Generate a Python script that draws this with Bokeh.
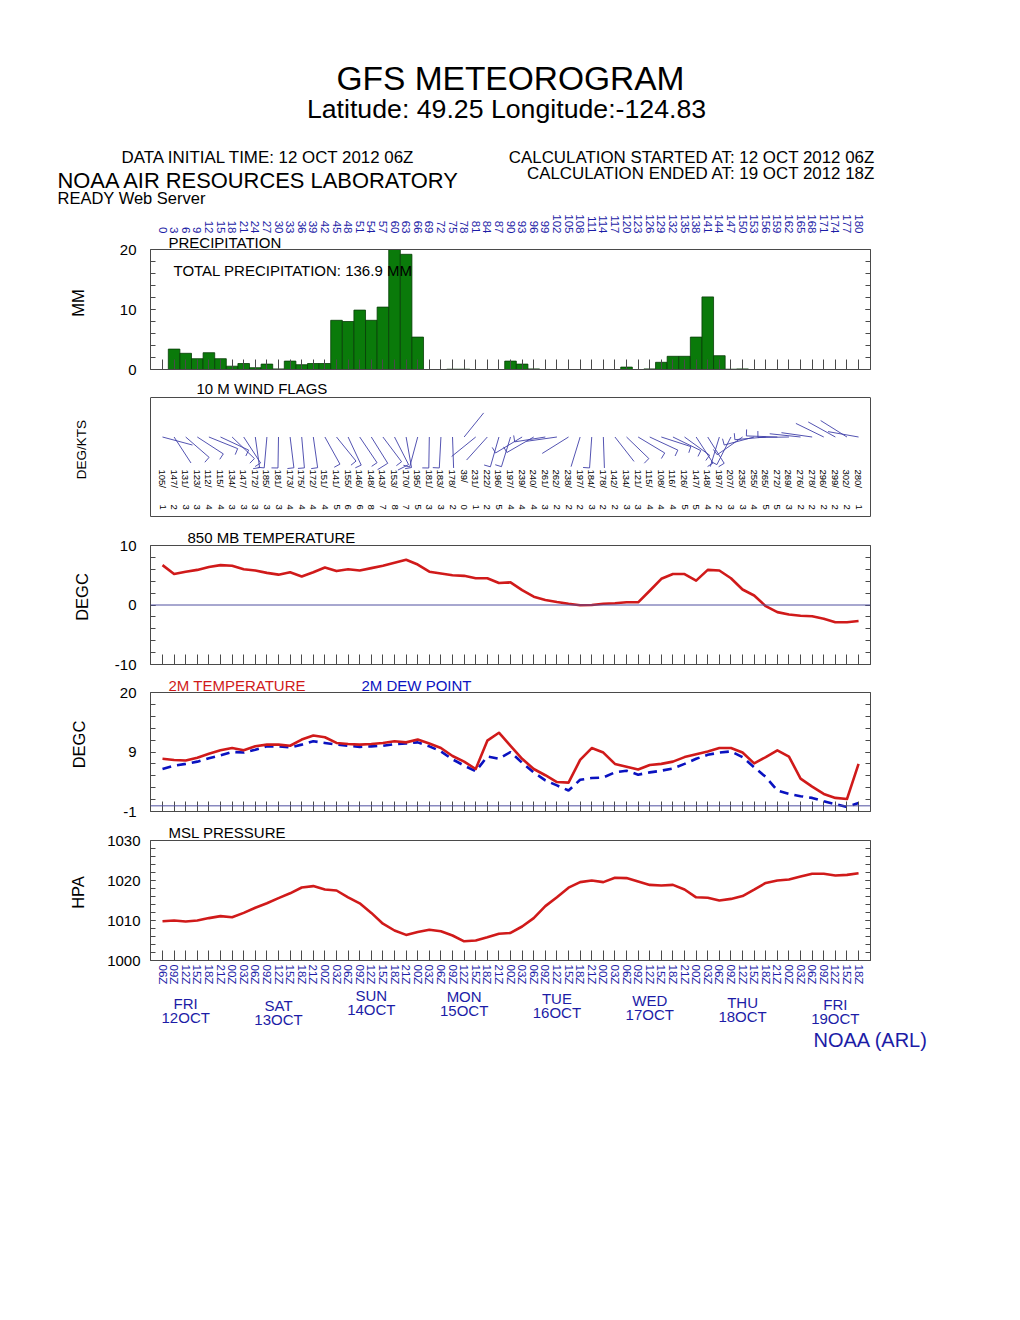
import math
from bokeh.plotting import figure
from bokeh.models import Range1d, LinearAxis, FixedTicker, Label, Span, ColumnDataSource
from bokeh.layouts import column
from bokeh.embed import file_html
from bokeh.resources import INLINE
from bokeh.core.properties import value

# ---------------- data ----------------
hours = list(range(0, 181, 3))
precip_hours = list(range(3, 181, 3))
precip_mm = [3.4, 2.7, 1.8, 2.8, 1.8, 0.55, 1.0, 0.3, 0.9, 0.1,
             1.4, 0.8, 1.0, 1.0, 8.2, 8.0, 9.9, 8.2, 10.4, 20.0,
             19.2, 5.4, 0.0, 0.0, 0.05, 0.05, 0.0, 0.0, 0.0, 1.4,
             0.9, 0.1, 0.0, 0.0, 0.0, 0.0, 0.0, 0.0, 0.0, 0.4,
             0.0, 0.1, 1.2, 2.2, 2.2, 5.4, 12.1, 2.3, 0.05, 0.1,
             0.0, 0.0, 0.0, 0.0, 0.0, 0.0, 0.0, 0.0, 0.0, 0.0]
total_precip = "136.9"

wind_dir = [105, 147, 131, 123, 112, 115, 134, 147, 172, 185, 181, 173, 175, 172, 151,
            141, 155, 146, 148, 143, 153, 170, 195, 181, 183, 178, 39, 231, 222, 196,
            197, 239, 240, 261, 262, 238, 197, 184, 178, 142, 134, 121, 115, 108, 116,
            126, 147, 148, 197, 207, 235, 255, 265, 272, 269, 276, 278, 296, 299, 302, 280]
wind_kts = [1, 2, 3, 3, 4, 4, 3, 3, 3, 3, 3, 4, 4, 4, 4,
            5, 6, 6, 8, 7, 8, 7, 5, 3, 3, 2, 0, 1, 2, 5,
            4, 4, 4, 3, 2, 2, 2, 3, 2, 2, 3, 3, 4, 4, 4,
            5, 5, 4, 2, 3, 3, 4, 5, 5, 3, 2, 2, 2, 2, 2, 1]

t850 = [6.7, 5.2, 5.6, 5.9, 6.4, 6.7, 6.6, 6.0, 5.8, 5.4, 5.1, 5.5, 4.8, 5.5, 6.3,
        5.7, 6.0, 5.8, 6.2, 6.6, 7.1, 7.6, 6.8, 5.6, 5.3, 5.0, 4.9, 4.5, 4.5, 3.7,
        3.8, 2.5, 1.4, 0.85, 0.5, 0.2, -0.05, 0.0, 0.2, 0.3, 0.45, 0.45, 2.4, 4.4, 5.2,
        5.2, 4.1, 5.9, 5.8, 4.5, 2.6, 1.6, -0.2, -1.2, -1.6, -1.8, -1.9, -2.3, -2.9, -2.9, -2.7]

t2m = [8.3, 8.1, 8.0, 8.5, 9.2, 9.8, 10.2, 9.8, 10.5, 10.8, 10.8, 10.6, 11.7, 12.4, 12.1,
       11.1, 10.9, 10.8, 10.9, 11.1, 11.4, 11.2, 11.7, 11.0, 10.2, 8.8, 7.8, 6.5, 11.5, 12.9,
       10.6, 8.3, 6.5, 5.4, 4.2, 4.1, 8.1, 10.2, 9.4, 7.4, 6.9, 6.4, 7.2, 7.4, 7.8,
       8.6, 9.1, 9.6, 10.2, 10.2, 9.4, 7.5, 8.6, 9.8, 8.7, 4.8, 3.4, 2.1, 1.4, 1.2, 7.4]

td2m = [6.5, 7.1, 7.4, 7.8, 8.4, 8.9, 9.5, 9.4, 9.9, 10.5, 10.5, 10.3, 10.8, 11.4, 11.1,
        10.8, 10.6, 10.4, 10.5, 10.6, 10.9, 11.0, 11.2, 10.5, 9.6, 8.2, 7.1, 6.1, 8.7, 8.3,
        9.5, 7.6, 5.9, 4.5, 3.6, 2.7, 4.6, 4.9, 5.0, 5.9, 6.2, 5.5, 5.9, 6.2, 6.6,
        7.4, 8.3, 9.0, 9.4, 9.6, 8.6, 6.8, 5.1, 2.7, 2.1, 1.7, 1.4, 0.8, 0.3, -0.2, 0.5]

mslp = [1009.8, 1010.0, 1009.75, 1010.0, 1010.6, 1011.1, 1010.8, 1011.9, 1013.2, 1014.3,
        1015.6, 1016.8, 1018.25, 1018.6, 1017.75, 1017.5, 1015.8, 1014.3, 1011.9, 1009.2,
        1007.5, 1006.4, 1007.1, 1007.7, 1007.3, 1006.25, 1004.8, 1005.0, 1005.8, 1006.7,
        1006.9, 1008.5, 1010.6, 1013.6, 1015.8, 1018.2, 1019.6, 1020.0, 1019.6, 1020.7,
        1020.6, 1019.75, 1018.9, 1018.75, 1018.9, 1017.75, 1015.8, 1015.7, 1015.0, 1015.4,
        1016.1, 1017.7, 1019.4, 1020.0, 1020.25, 1021.0, 1021.7, 1021.7, 1021.25, 1021.4, 1021.8]

hour_labels = [str(h) for h in hours]
utc_cycle = ["06Z", "09Z", "12Z", "15Z", "18Z", "21Z", "00Z", "03Z"]
time_labels = [utc_cycle[i % 8] for i in range(len(hours))]
day_names = ["FRI", "SAT", "SUN", "MON", "TUE", "WED", "THU", "FRI"]
day_dates = ["12OCT", "13OCT", "14OCT", "15OCT", "16OCT", "17OCT", "18OCT", "19OCT"]
day_noon_hours = [6, 30, 54, 78, 102, 126, 150, 174]

# ---------------- layout / style ----------------
FONT = "Liberation Sans"
TXT_BLUE = "#1c1ca6"
RED = "#d01a1a"
DEW_BLUE = "#0a12c0"
FRAME = "#4a4a4a"
BARB = "#4040a8"
W = 1020
H0_PX = 162.0
PX_PER_H = 3.867
FRAME_L, FRAME_R = 150, 870
XR = ((FRAME_L - H0_PX) / PX_PER_H, (FRAME_R - H0_PX) / PX_PER_H)
XFULL = ((0 - H0_PX) / PX_PER_H, (W - H0_PX) / PX_PER_H)
day_label_py = [1003, 1005, 995, 996, 998, 1000, 1002, 1004]


def hx(px):
    return (px - H0_PX) / PX_PER_H


def strip(top, bot):
    p = figure(width=W, height=bot - top, x_range=Range1d(*XFULL), y_range=Range1d(bot, top),
               toolbar_location=None, output_backend="svg", min_border=0,
               x_axis_location=None, y_axis_location=None, frame_align=False)
    p.outline_line_color = None
    p.grid.visible = False
    return p


def make_panel(fig_top, frame_top, box_top, frame_bot, fig_bot, y0, y1):
    k = (y1 - y0) / (frame_bot - box_top)
    y_end = y0 + (frame_bot - frame_top) * k
    p = figure(width=W, height=fig_bot - fig_top,
               x_range=Range1d(*XR), y_range=Range1d(y0, y_end),
               toolbar_location=None, output_backend="svg",
               x_axis_location=None, y_axis_location=None, frame_align=False,
               min_border_left=FRAME_L, min_border_right=W - FRAME_R,
               min_border_top=frame_top - fig_top,
               min_border_bottom=fig_bot - frame_bot)
    p.outline_line_color = None
    p.grid.visible = False
    p.background_fill_color = "white"
    p.border_fill_color = "white"
    p.add_layout(Span(location=y1, dimension="width", line_color=FRAME, line_width=1))

    def py(v):
        return y0 + (frame_bot - v) * k
    return p, py


def lab(p, x, y, text, size, color="black", align="left", angle=0.0):
    p.add_layout(Label(x=x, y=y, text=text, text_font=FONT, text_font_size=size,
                       text_color=color, text_align=align, text_baseline="middle",
                       angle=angle))


def add_y_axes(p, bounds, major, minor, labels, title, title_size, title_standoff,
               standoff=14):
    for side in ("left", "right"):
        ax = LinearAxis(ticker=FixedTicker(ticks=major, minor_ticks=minor), bounds=bounds)
        ax.axis_line_color = FRAME
        ax.major_tick_line_color = FRAME
        ax.minor_tick_line_color = FRAME
        ax.major_tick_in = 5
        ax.major_tick_out = 0
        ax.minor_tick_in = 5
        ax.minor_tick_out = 0
        ax.major_label_text_font = FONT
        ax.major_label_text_font_size = "15px"
        ax.major_label_text_color = "black"
        ax.major_label_standoff = standoff
        if side == "left":
            ax.major_label_overrides = {m: l for m, l in zip(major, labels)}
            ax.axis_label = title
            ax.axis_label_text_font = FONT
            ax.axis_label_text_font_size = title_size
            ax.axis_label_text_font_style = "normal"
            ax.axis_label_text_color = "black"
            ax.axis_label_standoff = title_standoff
        else:
            ax.major_label_overrides = {m: "" for m in major}
        p.add_layout(ax, side)


def add_x_ticks(p, ticks, labels=None, standoff=4):
    ax = LinearAxis(ticker=FixedTicker(ticks=ticks, minor_ticks=[]))
    ax.axis_line_color = FRAME
    ax.major_tick_in = 10
    ax.major_tick_out = 0
    ax.major_tick_line_color = FRAME
    ax.minor_tick_line_color = None
    if labels is not None:
        ax.major_label_overrides = {h: s for h, s in zip(ticks, labels)}
        ax.major_label_orientation = -math.pi / 2
        ax.major_label_text_font = FONT
        ax.major_label_text_font_size = "11.5px"
        ax.major_label_text_color = TXT_BLUE
        ax.major_label_standoff = standoff
    else:
        ax.major_label_overrides = {h: "" for h in ticks}
        ax.major_label_standoff = 0
    p.add_layout(ax, "below")


# ---------------- header ----------------
hdr = strip(0, 207)
lab(hdr, hx(510), 78, "GFS METEOROGRAM", "33.5px", align="center")
lab(hdr, hx(506), 108, "Latitude: 49.25 Longitude:-124.83", "26.7px", align="center")
lab(hdr, hx(121), 157, "DATA INITIAL TIME: 12 OCT 2012 06Z", "16.9px")
lab(hdr, hx(875), 157, "CALCULATION STARTED AT: 12 OCT 2012 06Z", "16.9px", align="right")
lab(hdr, hx(875), 173, "CALCULATION ENDED AT: 19 OCT 2012 18Z", "16.9px", align="right")
lab(hdr, hx(57), 180, "NOAA AIR RESOURCES LABORATORY", "21.9px")
lab(hdr, hx(57), 197, "READY Web Server", "16.5px")

# ---------------- precipitation ----------------
pp, ppy = make_panel(207, 236, 249, 369, 380, 0, 20)
bars = [(h, v) for h, v in zip(precip_hours, precip_mm) if v > 0]
pp.vbar(x=[b[0] for b in bars], top=[b[1] for b in bars], width=3, bottom=0,
        fill_color="#0a7a0a", line_color="#073d07", line_width=0.8)
add_y_axes(pp, (0, 20), [0, 10, 20], list(range(0, 21, 2)), ["0", "10", "20"],
           "MM", "16.5px", 30)
add_x_ticks(pp, hours)
top = LinearAxis(ticker=FixedTicker(ticks=hours, minor_ticks=[]))
top.axis_line_color = None
top.major_tick_line_color = None
top.minor_tick_line_color = None
top.major_tick_in = 0
top.major_tick_out = 0
top.major_label_overrides = {h: s for h, s in zip(hours, hour_labels)}
top.major_label_orientation = -math.pi / 2
top.major_label_standoff = 3
top.major_label_text_font = FONT
top.major_label_text_font_size = "11.5px"
top.major_label_text_color = TXT_BLUE
pp.add_layout(top, "above")
lab(pp, hx(168), ppy(242), "PRECIPITATION", "15px")
lab(pp, hx(173), ppy(270), "TOTAL PRECIPITATION: " + total_precip + " MM", "15px")

# ---------------- wind flags ----------------
pw, pwy = make_panel(380, 382, 397, 516, 525, 0, 119)
STATION_Y = 79.5
STAFF = 31.0
sx0, sy0, sx1, sy1 = [], [], [], []
fx0, fy0, fx1, fy1 = [], [], [], []
for h, d, s in zip(hours, wind_dir, wind_kts):
    r = math.radians(d)
    ex = h + STAFF * math.sin(r) / PX_PER_H
    ey = STATION_Y + STAFF * math.cos(r)
    sx0.append(h); sy0.append(STATION_Y); sx1.append(ex); sy1.append(ey)
    rounded = int(s / 5.0 + 0.5) * 5
    if rounded >= 5:
        flen = 12.0 if rounded >= 10 else 6.5
        fx0.append(ex); fy0.append(ey)
        fx1.append(ex + flen * math.cos(r) / PX_PER_H)
        fy1.append(ey - flen * math.sin(r))
pw.segment(x0=sx0, y0=sy0, x1=sx1, y1=sy1, line_color=BARB, line_width=0.9)
pw.segment(x0=fx0, y0=fy0, x1=fx1, y1=fy1, line_color=BARB, line_width=0.9)
wsrc = ColumnDataSource(dict(x=hours, d=[f"{d}/" for d in wind_dir],
                             s=[str(s) for s in wind_kts]))
pw.text(x="x", y=pwy(469), text="d", source=wsrc, angle=-math.pi / 2,
        text_align="left", text_baseline="middle", text_font=value(FONT),
        text_font_size="9.5px", text_color="black")
pw.text(x="x", y=pwy(504), text="s", source=wsrc, angle=-math.pi / 2,
        text_align="left", text_baseline="middle", text_font=value(FONT),
        text_font_size="9.5px", text_color="black")
for side in ("left", "right"):
    wax = LinearAxis(ticker=FixedTicker(ticks=[], minor_ticks=[]), bounds=(0, 119))
    wax.axis_line_color = FRAME
    wax.major_label_standoff = 0
    if side == "left":
        wax.axis_label = "DEG/KTS"
        wax.axis_label_text_font = FONT
        wax.axis_label_text_font_size = "13.5px"
        wax.axis_label_text_font_style = "normal"
        wax.axis_label_text_color = "black"
        wax.axis_label_standoff = 62
    pw.add_layout(wax, side)
add_x_ticks(pw, [])
lab(pw, hx(196), pwy(388), "10 M  WIND FLAGS", "15px")

# ---------------- 850 mb temperature ----------------
p8, p8y = make_panel(525, 529, 545, 664, 673, -10, 10)
p8.add_layout(Span(location=0, dimension="width", line_color="#5050a0", line_width=1))
p8.line(hours, t850, line_color=RED, line_width=2.6, line_join="round")
add_y_axes(p8, (-10, 10), [-10, 0, 10], list(range(-10, 11, 2)), ["-10", "0", "10"],
           "DEGC", "16.5px", 21)
add_x_ticks(p8, hours)
lab(p8, hx(187), p8y(537), "850 MB  TEMPERATURE", "15px")

# ---------------- 2 m temperature / dew point ----------------
p2, p2y = make_panel(673, 677, 692, 811, 822, -1, 20)
p2.add_layout(Span(location=0, dimension="width", line_color="#5050a0", line_width=1))
p2.line(hours, td2m, line_color=DEW_BLUE, line_width=2.6, line_dash="9 6")
p2.line(hours, t2m, line_color=RED, line_width=2.6, line_join="round")
minor2 = [round(-1 + 2.1 * k, 2) for k in range(11)]
add_y_axes(p2, (-1, 20), [-1, 9.5, 20], minor2, ["-1", "9", "20"], "DEGC", "16.5px", 29)
add_x_ticks(p2, hours)
lab(p2, hx(168), p2y(685), "2M TEMPERATURE", "15px", color=RED)
lab(p2, hx(361), p2y(685), "2M   DEW POINT", "15px", color=DEW_BLUE)

# ---------------- MSL pressure ----------------
pm, pmy = make_panel(822, 824, 840, 960, 988, 1000, 1030)
pm.line(hours, mslp, line_color=RED, line_width=2.6, line_join="round")
add_y_axes(pm, (1000, 1030), [1000, 1010, 1020, 1030], list(range(1000, 1031, 2)),
           ["1000", "1010", "1020", "1030"], "HPA", "16.5px", 17, standoff=10)
add_x_ticks(pm, hours, labels=time_labels, standoff=4)
lab(pm, hx(168), pmy(832), "MSL PRESSURE", "15px")

# ---------------- footer ----------------
ftr = strip(988, 1060)
for h, dn, dd, ly in zip(day_noon_hours, day_names, day_dates, day_label_py):
    lab(ftr, h, ly, dn, "15px", color=TXT_BLUE, align="center")
    lab(ftr, h, ly + 14, dd, "15px", color=TXT_BLUE, align="center")
lab(ftr, hx(813), 1039, "NOAA (ARL)", "20px", color=TXT_BLUE)

layout = column(hdr, pp, pw, p8, p2, pm, ftr)
open("out.html", "w").write(file_html(layout, INLINE))
